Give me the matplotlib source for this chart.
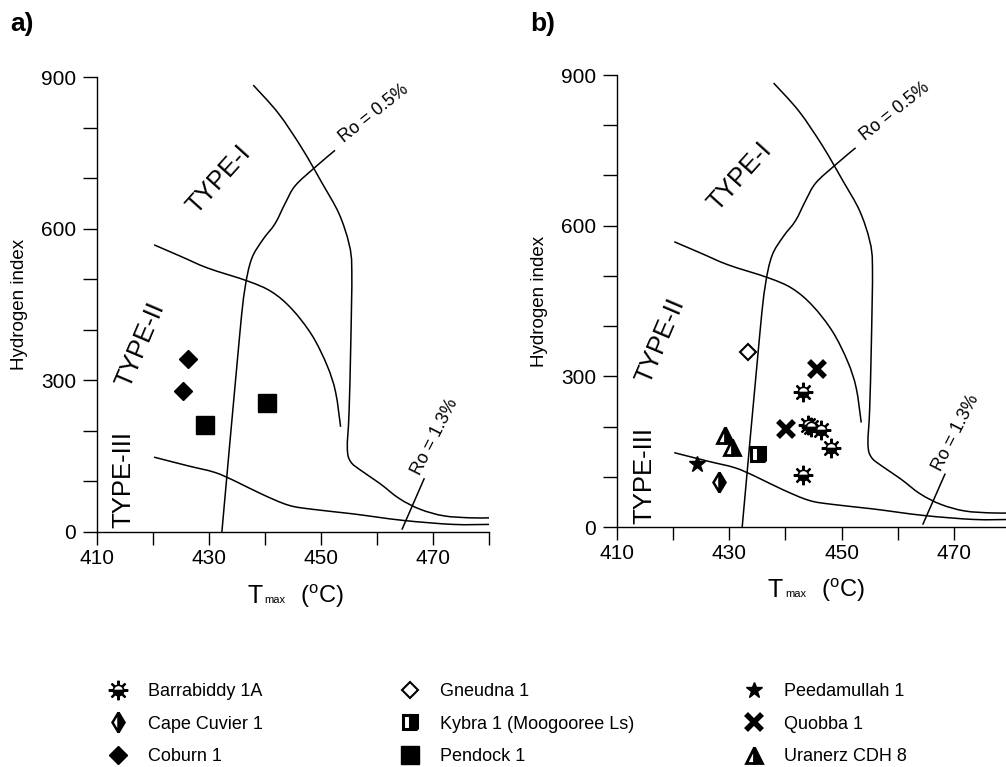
import matplotlib
matplotlib.use("Agg")
import matplotlib.pyplot as plt
from matplotlib.lines import Line2D
from matplotlib.path import Path
from matplotlib.patches import PathPatch
from matplotlib.legend_handler import HandlerTuple

plt.rcParams["font.family"] = ["Liberation Sans", "DejaVu Sans"]

# --- boundary curves (Tmax, HI) ---
type12_tmax = [420.2, 425, 429.8, 437.0, 441.2, 444.8, 448.4, 451.1, 452.6, 453.5]
type12_hi = [568, 545, 522, 496, 475, 441, 389, 329, 277, 208]

type23_tmax = [420.2, 426.2, 431.0, 434.6, 439.4, 444.2, 448.4, 455.6, 464.6, 473.6, 480]
type23_hi = [148, 131, 118, 101, 75, 53, 45, 36, 23, 15, 15]

upper_tmax = [437.9, 442.4, 446.6, 450.2, 453.2, 455.0, 455.5, 455.3, 455.0, 454.7,
              455.3, 457.1, 460.5, 464.0, 467.7, 471.9, 476.7, 480]
upper_hi = [884, 828, 759, 690, 630, 570, 518, 363, 234, 165,
            139, 122, 96, 66, 45, 32, 28, 28]

ro05_tmax = [432.3, 435.4, 436.4, 437.6, 439.6, 441.8, 443.6, 445.4, 449.0, 452.5]
ro05_hi = [0, 380, 480, 540, 578, 610, 650, 685, 722, 755]

ro13_tmax = [464.5, 468.4]
ro13_hi = [6, 105]

# --- samples ---
coburn_tmax = [426.2, 425.4]
coburn_hi = [342, 279]
pendock_tmax = [429.3, 440.4]
pendock_hi = [211, 256]

barrabiddy_tmax = [443.1, 444.0, 444.6, 446.4, 448.2, 443.1]
barrabiddy_hi = [269, 203, 200, 194, 157, 103]
cape_cuvier_tmax = [428.2]
cape_cuvier_hi = [89]
gneudna_tmax = [433.3]
gneudna_hi = [349]
kybra_tmax = [435.2]
kybra_hi = [145]
peedamullah_tmax = [424.2]
peedamullah_hi = [125]
quobba_tmax = [445.7, 440.1]
quobba_hi = [314, 195]
uranerz_tmax = [429.2, 430.4]
uranerz_hi = [183, 160]

x_ticks = list(range(410, 481, 10))
x_labels = ["410", "", "430", "", "450", "", "470", ""]
y_ticks = list(range(0, 901, 100))
y_labels = ["0", "", "", "300", "", "", "600", "", "", "900"]

# marker styles
STYLES = {
    "Coburn 1": dict(marker="D", ms=9.5, mfc="k", mec="k"),
    "Pendock 1": dict(marker="s", ms=13, mfc="k", mec="k"),
    "Gneudna 1": dict(marker="D", ms=8, mfc="white", mec="k", mew=1.5),
    "Cape Cuvier 1": dict(marker="d", ms=10, mfc="k", mec="k", mew=1.8,
                          fillstyle="right", markerfacecoloralt="white"),
    "Kybra 1 (Moogooree Ls)": dict(marker="s", ms=10.5, mfc="k", mec="k", mew=2.2,
                                   fillstyle="right", markerfacecoloralt="white"),
    "Peedamullah 1": dict(marker="*", ms=12, mfc="k", mec="k"),
    "Quobba 1": dict(marker="x", ms=11, mec="k", mew=4.0),
    "Uranerz CDH 8": dict(marker="^", ms=11, mfc="k", mec="k", mew=2.0,
                          fillstyle="right", markerfacecoloralt="white"),
}
SUN_RAYS = dict(marker=(8, 2, 0), ms=14, mec="k", mew=1.6)
SUN_DISC = dict(marker="o", ms=7.5, mfc="k", mec="k", mew=1.2,
                fillstyle="bottom", markerfacecoloralt="white")


def smooth_path(xs, ys):
    # Catmull-Rom through the read points, drawn as cubic Bezier pieces
    p = list(zip(xs, ys))
    verts = [p[0]]
    codes = [Path.MOVETO]
    for i in range(len(p) - 1):
        p0 = p[i - 1] if i > 0 else p[i]
        p1, p2 = p[i], p[i + 1]
        p3 = p[i + 2] if i + 2 < len(p) else p2
        c1 = (p1[0] + (p2[0] - p0[0]) / 6, p1[1] + (p2[1] - p0[1]) / 6)
        c2 = (p2[0] - (p3[0] - p1[0]) / 6, p2[1] - (p3[1] - p1[1]) / 6)
        verts += [c1, c2, p2]
        codes += [Path.CURVE4] * 3
    return Path(verts, codes)


def curve(ax, xs, ys):
    ax.add_patch(PathPatch(smooth_path(xs, ys), fill=False, ec="k", lw=1.1))


def draw_frame(ax):
    curve(ax, type12_tmax, type12_hi)
    curve(ax, type23_tmax, type23_hi)
    curve(ax, upper_tmax, upper_hi)
    curve(ax, ro05_tmax, ro05_hi)
    ax.plot(ro13_tmax, ro13_hi, color="k", lw=1.1)

    ax.text(431.8, 697, "TYPE-I", rotation=48, fontsize=18.5, ha="center", va="center")
    ax.text(417.8, 371, "TYPE-II", rotation=67, fontsize=18.5, ha="center", va="center")
    ax.text(414.8, 103, "TYPE-III", rotation=90, fontsize=18.5, ha="center", va="center")
    ax.text(459.4, 828, "Ro = 0.5%", rotation=38.5, fontsize=12.8, ha="center", va="center")
    ax.text(470.4, 188, "Ro = 1.3%", rotation=63, fontsize=12.8, ha="center", va="center")

    ax.set_xlim(410, 480)
    ax.set_ylim(0, 900)
    ax.set_xticks(x_ticks)
    ax.set_xticklabels(x_labels)
    ax.set_yticks(y_ticks)
    ax.set_yticklabels(y_labels)
    ax.tick_params(axis="y", direction="out", length=10, width=1, labelsize=15, pad=5)
    ax.tick_params(axis="x", direction="out", length=9, width=1, labelsize=15, pad=3)
    for s in ["top", "right"]:
        ax.spines[s].set_visible(False)
    for s in ["left", "bottom"]:
        ax.spines[s].set_linewidth(1)
    ax.set_ylabel("Hydrogen index", fontsize=13.5)
    ax.yaxis.set_label_coords(-0.176, 0.5)

    # x label: T with a tiny "max" subscript, then (oC)
    ax.text(0.423, -0.155, "T", transform=ax.transAxes, fontsize=18, ha="right", va="baseline")
    ax.text(0.428, -0.155, "max", transform=ax.transAxes, fontsize=8, ha="left", va="baseline")
    ax.text(0.518, -0.155, r"($^{\mathregular{o}}$C)", transform=ax.transAxes, fontsize=17,
            ha="left", va="baseline")


def pts(ax, x, y, name):
    ax.plot(x, y, ls="none", **STYLES[name])


fig = plt.figure(figsize=(10.06, 7.67), dpi=100)
ax_a = fig.add_axes([0.0964, 0.3064, 0.3897, 0.5932])
ax_b = fig.add_axes([0.6133, 0.3129, 0.3907, 0.5893])

draw_frame(ax_a)
pts(ax_a, coburn_tmax, coburn_hi, "Coburn 1")
pts(ax_a, pendock_tmax, pendock_hi, "Pendock 1")

draw_frame(ax_b)
pts(ax_b, gneudna_tmax, gneudna_hi, "Gneudna 1")
pts(ax_b, cape_cuvier_tmax, cape_cuvier_hi, "Cape Cuvier 1")
pts(ax_b, kybra_tmax, kybra_hi, "Kybra 1 (Moogooree Ls)")
pts(ax_b, peedamullah_tmax, peedamullah_hi, "Peedamullah 1")
pts(ax_b, quobba_tmax, quobba_hi, "Quobba 1")
pts(ax_b, uranerz_tmax, uranerz_hi, "Uranerz CDH 8")
ax_b.plot(barrabiddy_tmax, barrabiddy_hi, ls="none", **SUN_RAYS)
ax_b.plot(barrabiddy_tmax, barrabiddy_hi, ls="none", **SUN_DISC)

fig.text(0.010, 0.985, "a)", fontsize=19, fontweight="bold", va="top")
fig.text(0.527, 0.985, "b)", fontsize=19, fontweight="bold", va="top")

# legend, three columns
def h(name):
    return Line2D([], [], ls="none", **STYLES[name])

sun = (Line2D([], [], ls="none", **SUN_RAYS), Line2D([], [], ls="none", **SUN_DISC))
columns = [
    ([sun, h("Cape Cuvier 1"), h("Coburn 1")],
     ["Barrabiddy 1A", "Cape Cuvier 1", "Coburn 1"], 109),
    ([h("Gneudna 1"), h("Kybra 1 (Moogooree Ls)"), h("Pendock 1")],
     ["Gneudna 1", "Kybra 1 (Moogooree Ls)", "Pendock 1"], 401),
    ([h("Peedamullah 1"), h("Quobba 1"), h("Uranerz CDH 8")],
     ["Peedamullah 1", "Quobba 1", "Uranerz CDH 8"], 745),
]
for handles, labels, xpx in columns:
    fig.legend(handles, labels, loc="upper left",
               bbox_to_anchor=(xpx / 1006, 1 - 683 / 767),
               frameon=False, fontsize=13, borderpad=0, borderaxespad=0,
               handlelength=1.0, handletextpad=1.17, labelspacing=0.87,
               handler_map={tuple: HandlerTuple(ndivide=1, pad=0)})

fig.savefig("out.png", dpi=100)
